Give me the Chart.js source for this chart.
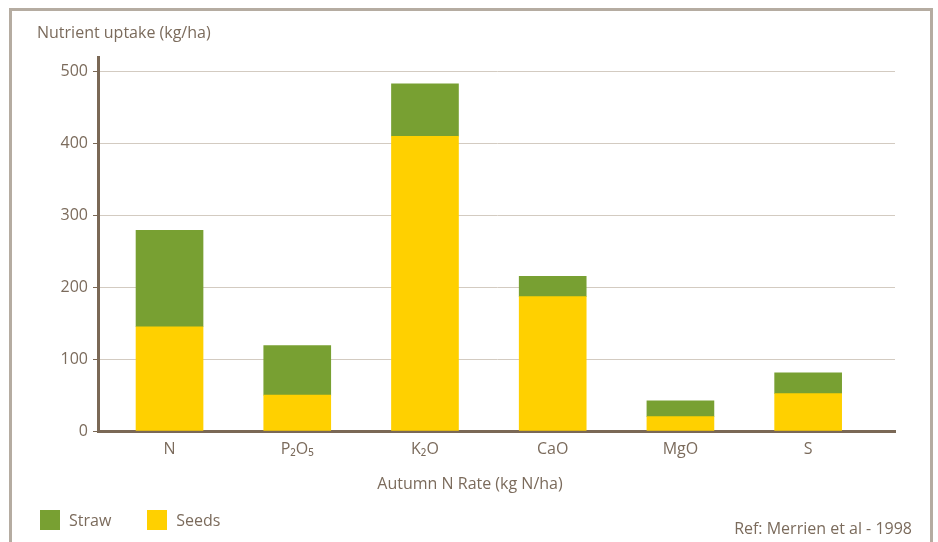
<!DOCTYPE html>
<html>
<head>
<meta charset="utf-8">
<script src="https://cdn.jsdelivr.net/npm/chart.js@4/dist/chart.umd.min.js"></script>
<style>
  body { margin: 0; width: 938px; height: 542px; overflow: hidden; background: #fff; font-family: "Open Sans", sans-serif; }
  #frame { position: absolute; left: 9px; top: 8px; width: 918px; height: 600px; border: 3px solid #b5aca1; pointer-events: none; }
  #wrap { position: absolute; left: 0; top: 0; width: 938px; height: 542px; }
  #xTitle { position: absolute; left: 370px; width: 200px; top: 472px; text-align: center; font-size: 16px; color: #7b6b5c; }
  #legend { position: absolute; left: 40px; top: 509px; display: flex; font-size: 16px; color: #7b6b5c; }
  .item { display: flex; align-items: center; margin-right: 36px; }
  .box { width: 20px; height: 20px; margin-right: 9px; }
  #ref { position: absolute; right: 26px; top: 517px; font-size: 16px; color: #7b6b5c; }
</style>
</head>
<body>
<div id="wrap"><canvas id="nutrientChart" width="938" height="542"></canvas></div>
<div id="frame"></div>
<div id="xTitle">Autumn N Rate (kg N/ha)</div>
<div id="legend"></div>
<div id="ref">Ref: Merrien et al - 1998</div>
<script>
const nutrients = ["N", "P₂O₅", "K₂O", "CaO", "MgO", "S"];
const seeds = [145, 50, 410, 187, 20, 52];
const straw = [134, 69, 73, 28, 22, 29];
const yTicks = [0, 100, 200, 300, 400, 500];

const textColor = "#7b6b5c";
const axisColor = "#7a6856";
const gridColor = "#d3cbc1";
const seedsColor = "#ffd000";
const strawColor = "#78a032";

Chart.defaults.font.family = "'Open Sans', sans-serif";
Chart.defaults.font.size = 16;
Chart.defaults.color = textColor;

// x is a numeric index so the categories can sit where they do in the original
const toPoints = (arr) => arr.map((v, i) => ({ x: i, y: v }));

const ctx = document.getElementById("nutrientChart");
const chart = new Chart(ctx, {
  type: "bar",
  data: {
    datasets: [
      { label: "Seeds", data: toPoints(seeds), backgroundColor: seedsColor },
      { label: "Straw", data: toPoints(straw), backgroundColor: strawColor },
    ],
  },
  options: {
    responsive: false,
    animation: false,
    layout: { padding: { left: 37, top: 24, right: 43, bottom: 49 } },
    datasets: {
      bar: { barThickness: 67 },
    },
    scales: {
      x: {
        type: "linear",
        stacked: true,
        offset: false,
        min: -0.56,
        max: 5.68,
        afterFit: (scale) => {
          scale.height = 62;
        },
        afterBuildTicks: (scale) => {
          scale.ticks = nutrients.map((n, i) => ({ value: i }));
        },
        grid: { display: false },
        border: { color: axisColor, width: 3 },
        ticks: {
          padding: 1,
          color: textColor,
          callback: (value) => nutrients[value],
        },
      },
      y: {
        stacked: true,
        min: 0,
        max: 520,
        afterFit: (scale) => {
          scale.width = 61;
        },
        afterBuildTicks: (scale) => {
          scale.ticks = yTicks.map((v) => ({ value: v }));
        },
        grid: {
          color: gridColor,
          tickColor: axisColor,
          tickLength: 5,
        },
        border: { color: axisColor, width: 3 },
        ticks: { padding: 5, color: textColor },
      },
    },
    plugins: {
      legend: { display: false },
      tooltip: { enabled: false },
      title: {
        display: true,
        text: "Nutrient uptake (kg/ha)",
        align: "start",
        color: textColor,
        font: { size: 16, weight: "normal" },
        padding: { top: 0, bottom: 14 },
      },
    },
  },
});

// legend, straw first like the original
const legendEle = document.getElementById("legend");
[...chart.data.datasets].reverse().forEach((ds) => {
  const item = document.createElement("div");
  item.className = "item";
  item.innerHTML =
    '<span class="box" style="background:' + ds.backgroundColor + '"></span><span>' + ds.label + "</span>";
  legendEle.appendChild(item);
});
</script>
</body>
</html>
